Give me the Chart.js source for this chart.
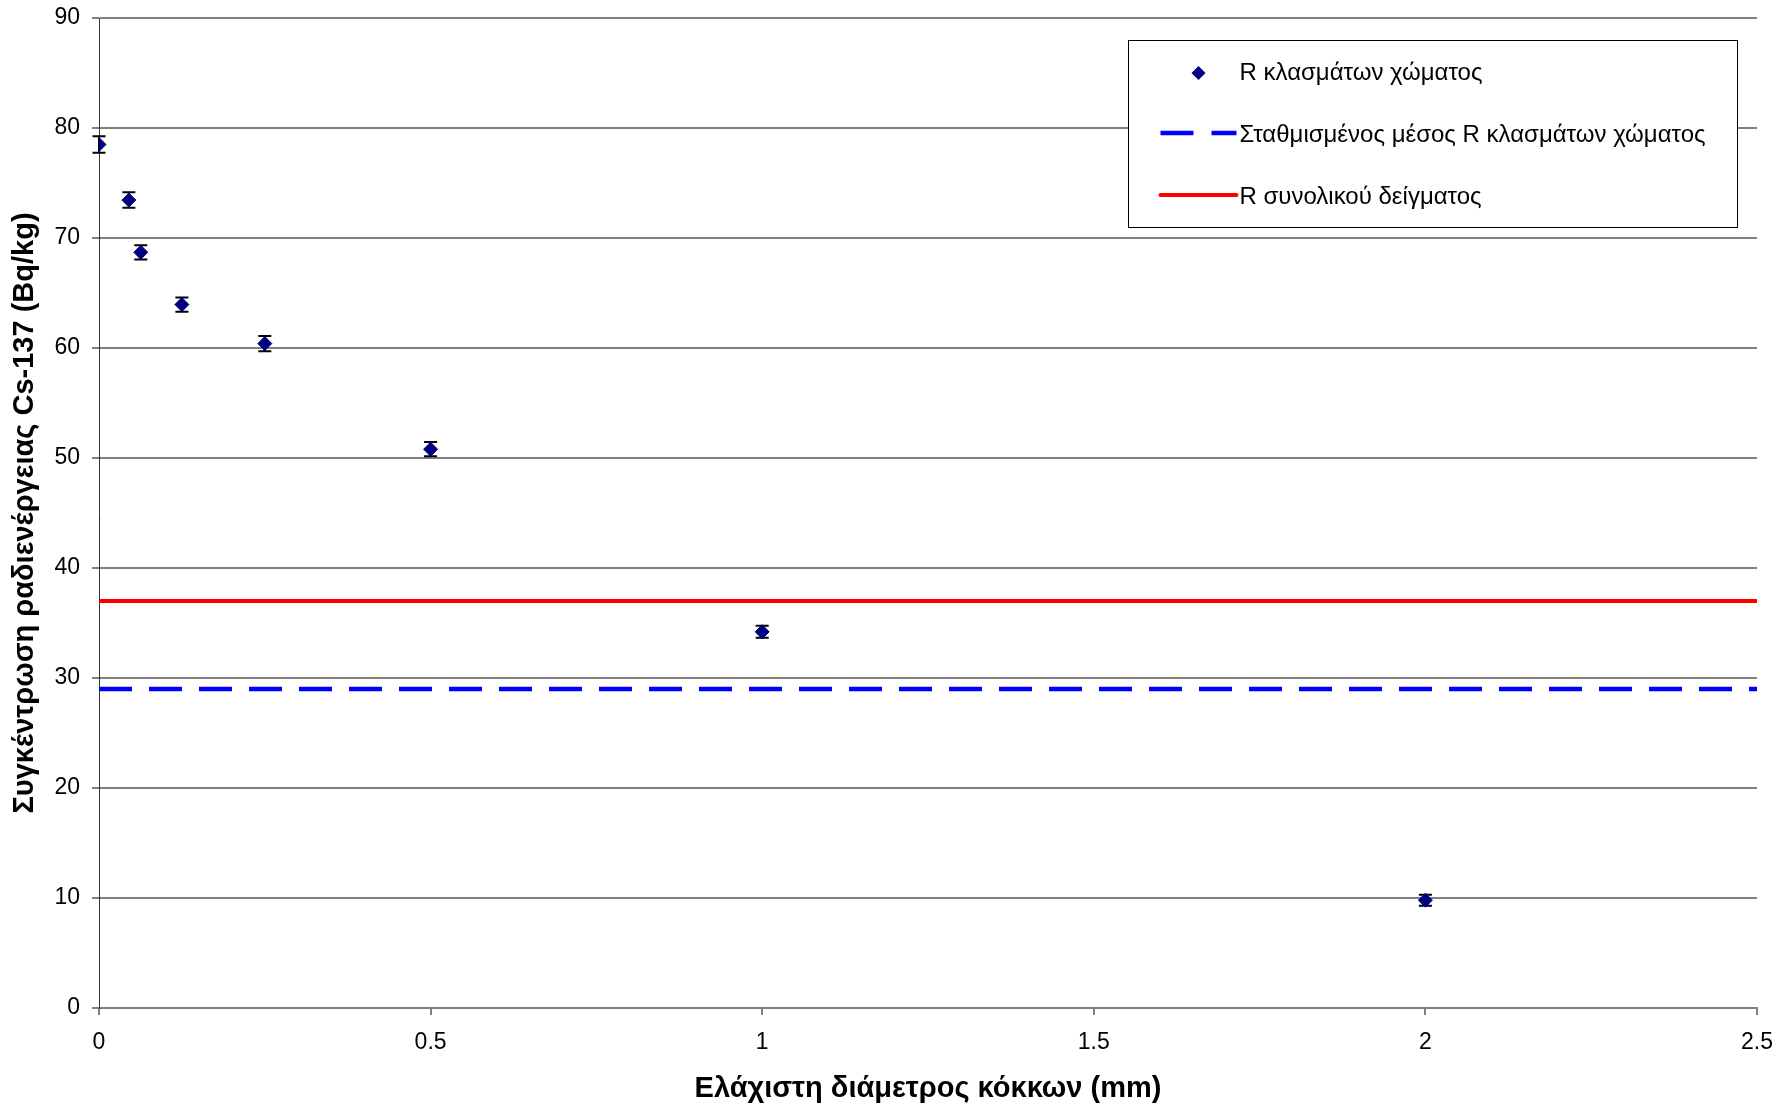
<!DOCTYPE html>
<html>
<head>
<meta charset="utf-8">
<script src="https://cdn.jsdelivr.net/npm/chart.js@4.4.1/dist/chart.umd.min.js"></script>
<style>
  html, body { margin: 0; padding: 0; background: #fff; }
  canvas { display: block; }
</style>
</head>
<body>
<canvas id="c" width="1780" height="1106"></canvas>
<script>
// ---- data ----
const diameters = [0, 0.045, 0.063, 0.125, 0.25, 0.5, 1, 2];          // mm
const activity = [78.5, 73.45, 68.7, 63.95, 60.4, 50.8, 34.2, 9.8];    // Bq/kg
const activityErr = [0.75, 0.7, 0.65, 0.65, 0.7, 0.65, 0.55, 0.5];
const weightedMean = 29;
const totalSample = 37;
const xRange = [0, 2.5];
const yRange = [0, 90];
const seriesNames = [
  'R κλασμάτων χώματος',
  'Σταθμισμένος μέσος R κλασμάτων χώματος',
  'R συνολικού δείγματος'
];
const xTitle = 'Ελάχιστη διάμετρος κόκκων (mm)';
const yTitle = 'Συγκέντρωση ραδιενέργειας Cs-137 (Bq/kg)';

const FONT = "'Liberation Sans', Arial, sans-serif";

const errorBarPlugin = {
  id: 'errorBars',
  beforeDatasetsDraw(chart) {
    const ctx = chart.ctx;
    const xs = chart.scales.x, ys = chart.scales.y;
    ctx.save();
    ctx.strokeStyle = '#000';
    ctx.lineWidth = 2;
    diameters.forEach((d, i) => {
      const px = xs.getPixelForValue(d);
      const top = ys.getPixelForValue(activity[i] + activityErr[i]);
      const bot = ys.getPixelForValue(activity[i] - activityErr[i]);
      ctx.beginPath();
      ctx.moveTo(px, top); ctx.lineTo(px, bot);
      ctx.moveTo(px - 6.5, top); ctx.lineTo(px + 6.5, top);
      ctx.moveTo(px - 6.5, bot); ctx.lineTo(px + 6.5, bot);
      ctx.stroke();
    });
    ctx.restore();
  }
};

const legendPlugin = {
  id: 'boxLegend',
  afterDraw(chart) {
    const ctx = chart.ctx;
    const ca = chart.chartArea;
    const w = 609, h = 187;
    const x0 = Math.round(ca.right - 20 - w) + 0.5;
    const y0 = Math.round(ca.top + 22) + 0.5;
    ctx.save();
    ctx.fillStyle = '#fff';
    ctx.fillRect(x0, y0, w, h);
    ctx.strokeStyle = '#000';
    ctx.lineWidth = 1;
    ctx.strokeRect(x0, y0, w, h);
    const ds = chart.data.datasets;
    const rows = [y0 + 32.5, y0 + 92.5, y0 + 154.5];
    const textDy = [0, 2.5, 2.5];
    const symL = x0 + 32, symR = x0 + 108, textX = x0 + 111;
    // row 1 marker
    ctx.fillStyle = ds[0].backgroundColor;
    ctx.beginPath();
    const cx = x0 + 70, cy = rows[0], r = 7;
    ctx.moveTo(cx, cy - r); ctx.lineTo(cx + r, cy); ctx.lineTo(cx, cy + r); ctx.lineTo(cx - r, cy); ctx.closePath();
    ctx.fill();
    // row 2 dashed
    ctx.beginPath();
    ctx.strokeStyle = ds[1].borderColor;
    ctx.lineWidth = ds[1].borderWidth;
    ctx.moveTo(symL, rows[1]); ctx.lineTo(symL + 33, rows[1]);
    ctx.moveTo(symL + 51, rows[1]); ctx.lineTo(symR, rows[1]);
    ctx.stroke();
    // row 3 solid
    ctx.beginPath();
    ctx.strokeStyle = ds[2].borderColor;
    ctx.lineWidth = ds[2].borderWidth;
    ctx.lineCap = 'round';
    ctx.moveTo(symL, rows[2]); ctx.lineTo(symR, rows[2]);
    ctx.stroke();
    ctx.fillStyle = '#000';
    ctx.font = '24px ' + FONT;
    ctx.textBaseline = 'middle';
    ctx.textAlign = 'left';
    seriesNames.forEach((n, i) => ctx.fillText(n, textX, rows[i] + textDy[i]));
    ctx.restore();
  }
};

new Chart(document.getElementById('c'), {
  type: 'scatter',
  data: {
    datasets: [
      {
        label: seriesNames[0],
        data: diameters.map((d, i) => ({ x: d, y: activity[i] })),
        pointStyle: 'rectRot',
        pointRadius: 7,
        pointHoverRadius: 7,
        backgroundColor: '#000080',
        borderColor: '#000080',
        borderWidth: 1,
        showLine: false,
        order: 1
      },
      {
        label: seriesNames[1],
        data: xRange.map(x => ({ x, y: weightedMean })),
        showLine: true,
        borderColor: '#0000ff',
        backgroundColor: '#0000ff',
        borderWidth: 4.5,
        borderDash: [33, 17],
        pointRadius: 0,
        order: 2
      },
      {
        label: seriesNames[2],
        data: xRange.map(x => ({ x, y: totalSample })),
        showLine: true,
        borderColor: '#ff0000',
        backgroundColor: '#ff0000',
        borderWidth: 4,
        pointRadius: 0,
        order: 3
      }
    ]
  },
  options: {
    responsive: false,
    animation: false,
    devicePixelRatio: 1,
    layout: { padding: { top: 18, right: 23, left: 0, bottom: 0 } },
    plugins: {
      legend: { display: false },
      tooltip: { enabled: false }
    },
    scales: {
      x: {
        type: 'linear',
        min: xRange[0], max: xRange[1],
        afterFit(s) { s.height = 98; s.paddingLeft = 0; s.paddingRight = 0; },
        ticks: {
          stepSize: 0.5,
          color: '#000',
          font: { family: FONT, size: 23 },
          padding: 14,
          maxRotation: 0,
          callback: v => String(v)
        },
        grid: {
          drawOnChartArea: false,
          drawTicks: true,
          tickLength: 7,
          color: '#808080',
          lineWidth: 2
        },
        border: { color: '#808080', width: 2 },
        title: {
          display: true,
          text: xTitle,
          color: '#000',
          font: { family: FONT, size: 29, weight: 'bold' },
          padding: { top: 0, bottom: 0 }
        }
      },
      y: {
        type: 'linear',
        min: yRange[0], max: yRange[1],
        afterFit(s) { s.width = 99; s.paddingTop = 0; s.paddingBottom = 0; },
        ticks: {
          stepSize: 10,
          color: '#000',
          font: { family: FONT, size: 23 },
          padding: 12
        },
        grid: {
          color: '#808080',
          lineWidth: 2,
          tickLength: 7
        },
        border: { color: '#333', width: 1 },
        title: {
          display: true,
          text: yTitle,
          color: '#000',
          font: { family: FONT, size: 29, weight: 'bold' },
          padding: { top: 8, bottom: 0 }
        }
      }
    }
  },
  plugins: [errorBarPlugin, legendPlugin]
});
</script>
</body>
</html>
